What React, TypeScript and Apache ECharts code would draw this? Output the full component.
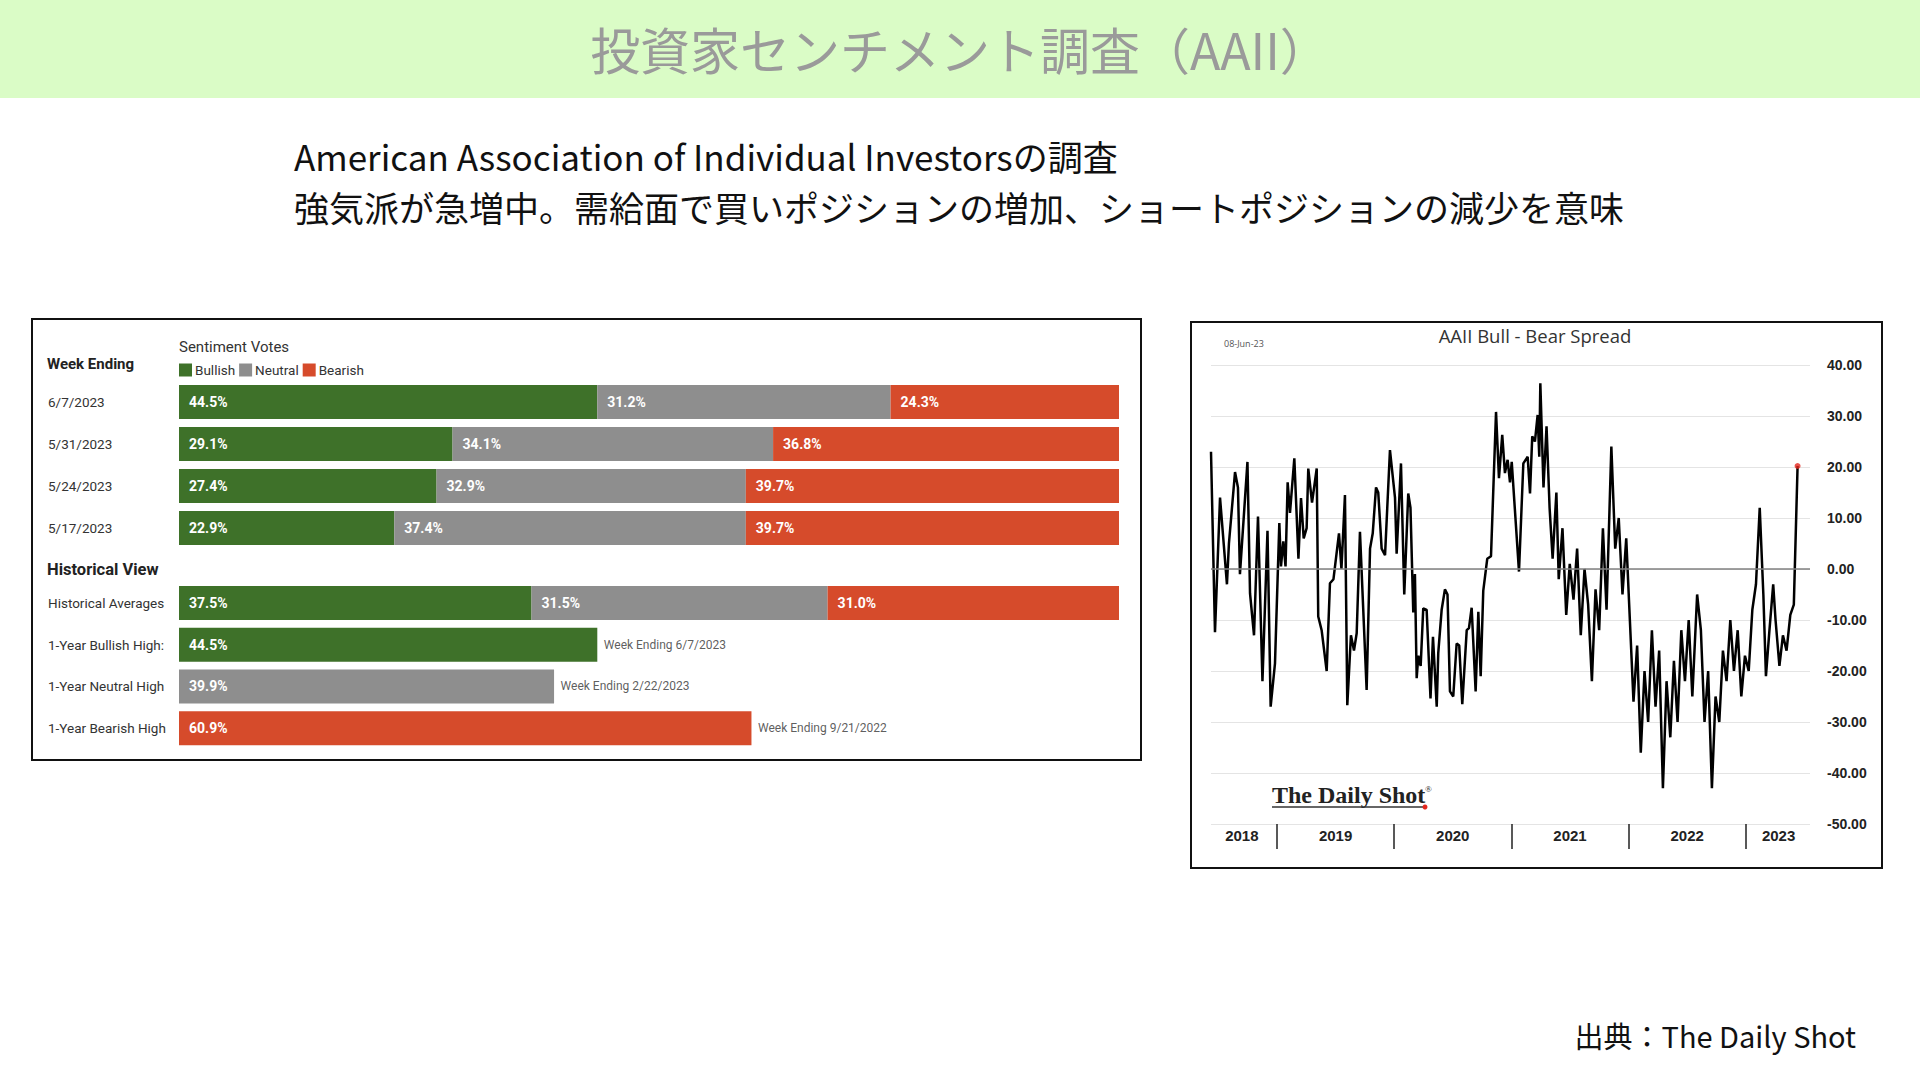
import React, { useEffect, useRef } from "react";
import * as echarts from "echarts";

// ---------- Data: left panel (AAII sentiment votes) ----------
const weekLabels = ["6/7/2023", "5/31/2023", "5/24/2023", "5/17/2023"];
const weekBullish = [44.5, 29.1, 27.4, 22.9];
const weekNeutral = [31.2, 34.1, 32.9, 37.4];
const weekBearish = [24.3, 36.8, 39.7, 39.7];

const histLabels = ["Historical Averages", "1-Year Bullish High:", "1-Year Neutral High", "1-Year Bearish High"];
const histBullish = [37.5, 44.5, 0, 0];
const histNeutral = [31.5, 0, 39.9, 0];
const histBearish = [31.0, 0, 0, 60.9];
const histNotes = ["", "Week Ending 6/7/2023", "Week Ending 2/22/2023", "Week Ending 9/21/2022"];

// ---------- Data: right panel (AAII Bull - Bear spread, decimal years) ----------
const spreadYears = [
  2018.437, 2018.471, 2018.514, 2018.573, 2018.59, 2018.642, 2018.667, 2018.684, 2018.748, 2018.77,
  2018.804, 2018.838, 2018.876, 2018.919, 2018.946, 2018.983, 2019.02, 2019.034, 2019.054, 2019.073,
  2019.091, 2019.111, 2019.148, 2019.183, 2019.205, 2019.228, 2019.253, 2019.267, 2019.299, 2019.339,
  2019.352, 2019.381, 2019.424, 2019.452, 2019.482, 2019.529, 2019.55, 2019.58, 2019.6, 2019.631,
  2019.657, 2019.68, 2019.708, 2019.765, 2019.794, 2019.817, 2019.845, 2019.864, 2019.893, 2019.922,
  2019.964, 2020.007, 2020.021, 2020.058, 2020.086, 2020.12, 2020.139, 2020.163, 2020.177, 2020.192,
  2020.206, 2020.226, 2020.248, 2020.277, 2020.31, 2020.331, 2020.363, 2020.376, 2020.405, 2020.433,
  2020.455, 2020.476, 2020.504, 2020.533, 2020.555, 2020.581, 2020.619, 2020.638, 2020.661, 2020.695,
  2020.718, 2020.738, 2020.76, 2020.794, 2020.826, 2020.869, 2020.894, 2020.922, 2020.945, 2020.968,
  2020.988, 2021.003, 2021.065, 2021.102, 2021.139, 2021.159, 2021.178, 2021.201, 2021.224, 2021.238,
  2021.247, 2021.274, 2021.3, 2021.326, 2021.352, 2021.384, 2021.404, 2021.436, 2021.468, 2021.498,
  2021.53, 2021.561, 2021.592, 2021.624, 2021.655, 2021.687, 2021.718, 2021.749, 2021.781, 2021.812,
  2021.853, 2021.886, 2021.916, 2021.948, 2021.98, 2022.011, 2022.042, 2022.073, 2022.104, 2022.136,
  2022.167, 2022.199, 2022.23, 2022.261, 2022.293, 2022.324, 2022.356, 2022.387, 2022.418, 2022.45,
  2022.481, 2022.513, 2022.544, 2022.585, 2022.617, 2022.648, 2022.679, 2022.711, 2022.742, 2022.774,
  2022.805, 2022.836, 2022.868, 2022.899, 2022.931, 2022.962, 2022.993, 2023.025, 2023.056, 2023.087,
  2023.119, 2023.15, 2023.172, 2023.202, 2023.234, 2023.254, 2023.287, 2023.317, 2023.348, 2023.38,
  2023.41, 2023.442,
];
const spreadValues = [
  23, -12.4, 14, -3, 5, 19, 16, -1, 21, -4.8,
  -13, 10.3, -22, 7.5, -27, -18.5, 9, 0.5, 5.4, 0.5,
  17, 11, 21.7, 2, 13.9, 6, 8, 19.7, 13, 19.7,
  -9.3, -12, -20, -2.8, -2, 7, 0, 14.5, -26.7, -13,
  -16, -12.6, 7.3, -23.7, 4, 7, 16, 15, 4, 2.7,
  23.3, 14, 3, 20.7, -5, 14.8, 12, -8.5, -1, -21.4,
  -17, -19, -7.7, -8, -25.4, -13.3, -27, -16.5, -8, -4,
  -5, -24, -25, -14.6, -15, -26.5, -12, -11.6, -7.6, -24,
  -8.4, -21, -4.3, 2, 2.5, 30.8, 17.8, 26.3, 18.8, 21.4,
  17, 21, -0.5, 20.7, 22, 14.8, 26, 25, 30.2, 22,
  36.4, 16, 28, 12, 2, 15, -2, 8, -9, 1,
  -6, 4, -13, 0, -7, -22, -4, -12, 8, -8,
  24, 4, 10, -5, 6, -10, -26, -15, -36, -20,
  -30, -12, -27, -16, -43, -22, -33, -18, -30, -12,
  -22, -10, -25, -5, -12, -30, -20, -43, -25, -30,
  -16, -22, -10, -20, -12, -25, -17, -20, -8, -3,
  12, -5, -21, -12, -3, -10, -19, -13, -16, -9,
  -7, 20.2,
];
const yearTicks = [2019, 2020, 2021, 2022, 2023];
const yearLabelPositions = [2018.7, 2019.5, 2020.5, 2021.5, 2022.5, 2023.28];

const GREEN = "#3e7129";
const GRAY = "#8e8e8e";
const RED = "#d64b2b";
const JP = "'Noto Sans CJK JP', 'Noto Sans', sans-serif";
const BAR_FONT = "Roboto, 'Noto Sans', sans-serif";

function pctLabel(p: any) {
  const v = Array.isArray(p.value) ? p.value[0] : p.value;
  return v > 0 ? v.toFixed(1) + "%" : "";
}

function barSeries(name: string, color: string, data: number[], idx: number) {
  return {
    name,
    type: "bar",
    stack: "s" + idx,
    xAxisIndex: idx,
    yAxisIndex: idx,
    barWidth: 34,
    data,
    itemStyle: { color },
    label: {
      show: true,
      position: "insideLeft",
      distance: 10,
      color: "#fff",
      fontWeight: "bold",
      fontSize: 14,
      fontFamily: BAR_FONT,
      formatter: pctLabel,
    },
    emphasis: { disabled: true },
  };
}

export default function App() {
  const ref = useRef<HTMLDivElement>(null);

  useEffect(() => {
    if (!ref.current) return;
    const chart = echarts.init(ref.current, null, { renderer: "svg" });

    const noteData = histLabels
      .map((c, i) => ({ i, c }))
      .filter((d) => histNotes[d.i] !== "")
      .map((d) => ({
        value: [histBullish[d.i] + histNeutral[d.i] + histBearish[d.i], d.c],
        note: histNotes[d.i],
      }));

    const option: any = {
      animation: false,
      backgroundColor: "#ffffff",
      textStyle: { fontFamily: BAR_FONT },
      grid: [
        { left: 179, top: 381, width: 940, height: 168 },
        { left: 179, top: 582, width: 940, height: 167 },
        { left: 1211, top: 365, width: 599, height: 459 },
      ],
      legend: {
        left: 179,
        top: 363,
        padding: 0,
        itemWidth: 13,
        itemHeight: 13,
        itemGap: 4,
        icon: "rect",
        selectedMode: false,
        data: ["Bullish", "Neutral", "Bearish"],
        textStyle: { fontSize: 13.5, color: "#333", fontFamily: BAR_FONT, padding: [0, 0, 0, -2] },
      },
      xAxis: [
        { gridIndex: 0, type: "value", min: 0, max: 100, show: false },
        { gridIndex: 1, type: "value", min: 0, max: 100, show: false },
        {
          gridIndex: 2,
          type: "value",
          min: 2018.437,
          max: 2023.548,
          axisLine: { show: false, onZero: false },
          splitLine: { show: false },
          axisTick: {
            show: true,
            customValues: yearTicks,
            length: 25,
            inside: false,
            lineStyle: { color: "#222", width: 1.5 },
          },
          axisLabel: {
            customValues: yearLabelPositions,
            formatter: (v: number) => String(Math.floor(v)),
            fontWeight: "bold",
            fontSize: 15,
            color: "#222",
            margin: 4,
            fontFamily: "'Liberation Sans', Arial, sans-serif",
          },
        },
      ],
      yAxis: [
        {
          gridIndex: 0,
          type: "category",
          inverse: true,
          data: weekLabels,
          axisLine: { show: false },
          axisTick: { show: false },
          axisLabel: { align: "left", margin: 131, fontSize: 13.5, color: "#333", fontFamily: BAR_FONT },
        },
        {
          gridIndex: 1,
          type: "category",
          inverse: true,
          data: histLabels,
          axisLine: { show: false },
          axisTick: { show: false },
          axisLabel: { align: "left", margin: 131, fontSize: 13.5, color: "#333", fontFamily: BAR_FONT },
        },
        {
          gridIndex: 2,
          type: "value",
          position: "right",
          min: -50,
          max: 40,
          interval: 10,
          axisLine: { show: false },
          axisTick: { show: false },
          splitLine: { lineStyle: { color: "#e4e4e4", width: 1 } },
          axisLabel: {
            formatter: (v: number) => v.toFixed(2),
            fontWeight: "bold",
            fontSize: 14,
            color: "#222",
            margin: 17,
            fontFamily: "'Liberation Sans', Arial, sans-serif",
          },
        },
      ],
      series: [
        barSeries("Bullish", GREEN, weekBullish, 0),
        barSeries("Neutral", GRAY, weekNeutral, 0),
        barSeries("Bearish", RED, weekBearish, 0),
        barSeries("Bullish", GREEN, histBullish, 1),
        barSeries("Neutral", GRAY, histNeutral, 1),
        barSeries("Bearish", RED, histBearish, 1),
        {
          name: "notes",
          type: "scatter",
          xAxisIndex: 1,
          yAxisIndex: 1,
          symbolSize: 1,
          itemStyle: { color: "rgba(0,0,0,0)" },
          data: noteData,
          label: {
            show: true,
            position: "right",
            distance: 6,
            fontSize: 12,
            color: "#333",
            fontFamily: BAR_FONT,
            formatter: (p: any) => p.data.note,
          },
          emphasis: { disabled: true },
        },
        {
          name: "spread",
          type: "line",
          xAxisIndex: 2,
          yAxisIndex: 2,
          data: spreadYears.map((x, i) => [x, spreadValues[i]]),
          showSymbol: false,
          symbol: "none",
          lineStyle: { color: "#000", width: 2.5 },
          z: 3,
          markLine: {
            silent: true,
            symbol: "none",
            label: { show: false },
            lineStyle: { color: "#808080", width: 1.5, type: "solid" },
            data: [{ yAxis: 0 }],
          },
          emphasis: { disabled: true },
        },
        {
          name: "latest",
          type: "scatter",
          xAxisIndex: 2,
          yAxisIndex: 2,
          symbolSize: 6,
          z: 4,
          itemStyle: { color: "#e3261d" },
          data: [[spreadYears[spreadYears.length - 1], spreadValues[spreadValues.length - 1]]],
        },
      ],
      graphic: [
        { type: "rect", shape: { x: 0, y: 0, width: 1920, height: 98 }, style: { fill: "#dafcc6" }, z: 0 },
        {
          type: "text",
          style: {
            text: "投資家センチメント調査（AAII）",
            x: 960,
            y: 48,
            textAlign: "center",
            textVerticalAlign: "middle",
            fontSize: 50,
            fontFamily: JP,
            fill: "#9a9a9a",
          },
        },
        {
          type: "text",
          style: {
            text: "American Association of Individual Investorsの調査",
            x: 294,
            y: 155.5,
            textVerticalAlign: "middle",
            fontSize: 35,
            fontFamily: JP,
            fill: "#111",
          },
        },
        {
          type: "text",
          style: {
            text: "強気派が急増中。需給面で買いポジションの増加、ショートポジションの減少を意味",
            x: 294,
            y: 206.5,
            textVerticalAlign: "middle",
            fontSize: 35,
            fontFamily: JP,
            fill: "#111",
          },
        },
        {
          type: "text",
          style: {
            text: "出典：The Daily Shot",
            x: 1856,
            y: 1035,
            textAlign: "right",
            textVerticalAlign: "middle",
            fontSize: 29,
            fontFamily: JP,
            fill: "#111",
          },
        },
        // panel frames
        { type: "rect", shape: { x: 32, y: 319, width: 1109, height: 441 }, style: { fill: "none", stroke: "#111", lineWidth: 2 } },
        { type: "rect", shape: { x: 1191, y: 322, width: 691, height: 546 }, style: { fill: "none", stroke: "#111", lineWidth: 2 } },
        // left panel headings
        {
          type: "text",
          style: { text: "Sentiment Votes", x: 179, y: 347, textVerticalAlign: "middle", fontSize: 15, fontFamily: BAR_FONT, fill: "#333" },
        },
        {
          type: "text",
          style: { text: "Week Ending", x: 47, y: 364, textVerticalAlign: "middle", fontSize: 15, fontWeight: "bold", fontFamily: BAR_FONT, fill: "#222" },
        },
        {
          type: "text",
          style: { text: "Historical View", x: 47, y: 569, textVerticalAlign: "middle", fontSize: 16.5, fontWeight: "bold", fontFamily: BAR_FONT, fill: "#222" },
        },
        // right panel texts
        {
          type: "text",
          style: { text: "AAII Bull - Bear Spread", x: 1535, y: 335, textAlign: "center", textVerticalAlign: "middle", fontSize: 18.5, fontFamily: "'Open Sans', sans-serif", fill: "#333" },
        },
        {
          type: "text",
          style: { text: "08-Jun-23", x: 1224, y: 343, textVerticalAlign: "middle", fontSize: 9, fontFamily: "'Open Sans', sans-serif", fill: "#555" },
        },
        {
          type: "text",
          style: { text: "The Daily Shot", x: 1272, y: 795, textVerticalAlign: "middle", fontSize: 24, fontWeight: "bold", fontFamily: "'Liberation Serif', 'DejaVu Serif', serif", fill: "#222" },
        },
        {
          type: "text",
          style: { text: "®", x: 1425, y: 789, textVerticalAlign: "middle", fontSize: 9, fontFamily: "'Liberation Serif', serif", fill: "#222" },
        },
        { type: "line", shape: { x1: 1272, y1: 807, x2: 1424, y2: 807 }, style: { stroke: "#333", lineWidth: 1.5 } },
        { type: "circle", shape: { cx: 1425, cy: 807, r: 2.5 }, style: { fill: "#e3261d" } },
      ],
    };

    chart.setOption(option);
    return () => chart.dispose();
  }, []);

  return (
    <div
      ref={ref}
      style={{ position: "fixed", left: 0, top: 0, width: 1920, height: 1080, background: "#fff" }}
    />
  );
}
